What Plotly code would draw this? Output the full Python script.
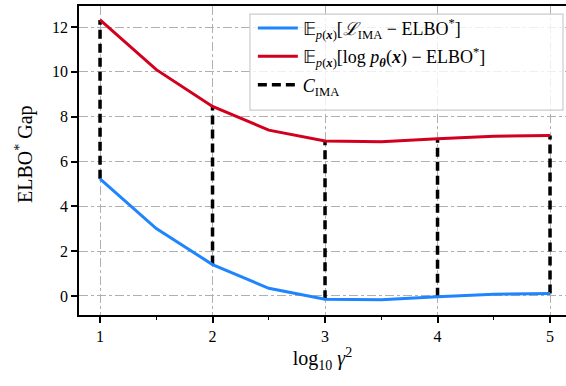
import plotly.graph_objects as go

log_gamma2 = [1.0, 1.5, 2.0, 2.5, 3.0, 3.5, 4.0, 4.5, 5.0]
ima_gap = [5.23, 3.01, 1.40, 0.34, -0.15, -0.17, -0.04, 0.08, 0.11]
logp_gap = [12.32, 10.10, 8.46, 7.40, 6.92, 6.88, 7.02, 7.13, 7.16]
c_ima_x = [1.0, 2.0, 3.0, 4.0, 5.0]

x_ticks = [1, 2, 3, 4, 5]
y_ticks = [0, 2, 4, 6, 8, 10, 12]

FONT = "Liberation Serif"

# dashed C_IMA segments between the two curves
seg_x, seg_y = [], []
for xv in c_ima_x:
    i = log_gamma2.index(xv)
    seg_x += [xv, xv, None]
    seg_y += [ima_gap[i], logp_gap[i], None]

fig = go.Figure()
fig.add_trace(go.Scatter(
    x=seg_x, y=seg_y, mode="lines",
    line=dict(color="black", width=3.5, dash="9px,5px"),
    name="<i>C</i><sub>IMA</sub>", legendrank=3, legendgroup="c",
))
fig.add_trace(go.Scatter(
    x=log_gamma2, y=ima_gap, mode="lines",
    line=dict(color="#1f85ff", width=3),
    name="𝔼<sub><i>p</i>(<b><i>x</i></b>)</sub>[<i>ℒ</i><sub>IMA</sub> − ELBO<sup>*</sup>]",
    legendrank=1, legendgroup="a",
))
fig.add_trace(go.Scatter(
    x=log_gamma2, y=logp_gap, mode="lines",
    line=dict(color="#d2001e", width=3),
    name="𝔼<sub><i>p</i>(<b><i>x</i></b>)</sub>[log <i>p</i><sub><b><i>θ</i></b></sub>(<b><i>x</i></b>) − ELBO<sup>*</sup>]",
    legendrank=2, legendgroup="b",
))

# legend frame (drawn as a shape so it can be wider than the text)
fig.add_shape(
    type="rect", xref="paper", yref="paper",
    x0=0.351, x1=0.9938, y0=0.663, y1=0.974,
    line=dict(color="#cccccc", width=1.2),
    fillcolor="rgba(255,255,255,0.8)", layer="above",
)

fig.update_layout(
    width=566, height=386,
    margin=dict(l=79, r=0, t=6, b=71),
    plot_bgcolor="white", paper_bgcolor="white",
    font=dict(family=FONT, color="black", size=16),
    showlegend=True,
    legend=dict(
        x=0.357, y=0.988, xanchor="left", yanchor="top",
        bgcolor="rgba(0,0,0,0)", borderwidth=0,
        font=dict(family=FONT, size=18, color="black"), tracegroupgap=2,
        itemwidth=40,
    ),
    annotations=[dict(
        text="ELBO<sup>*</sup> Gap", xref="paper", yref="paper",
        x=-0.113, y=0.521, xanchor="center", yanchor="middle",
        textangle=-90, showarrow=False, font=dict(family=FONT, size=20, color="black"),
    )],
)
fig.update_xaxes(
    range=[0.813, 5.142], tickvals=x_ticks, ticktext=[str(v) for v in x_ticks],
    showline=True, linecolor="black", linewidth=1.5, mirror=True,
    ticks="outside", ticklen=6, tickwidth=1.5, tickcolor="black",
    minor=dict(dtick=0.5, tick0=0, ticks="outside", ticklen=3, tickwidth=1, tickcolor="black", showgrid=False),
    showgrid=True, gridcolor="#b0b0b0", gridwidth=1, griddash="dashdot",
    zeroline=False, tickfont=dict(family=FONT, size=16, color="black"),
    title=dict(text="log<sub>10</sub> <i>γ</i><sup>2</sup>", font=dict(family=FONT, size=20), standoff=6),
)
fig.update_yaxes(
    range=[-0.85, 12.94], tickvals=y_ticks, ticktext=[str(v) for v in y_ticks],
    showline=True, linecolor="black", linewidth=1.5, mirror=False,
    ticks="outside", ticklen=6, tickwidth=1.5, tickcolor="black",
    showgrid=True, gridcolor="#b0b0b0", gridwidth=1, griddash="dashdot",
    zeroline=False, tickfont=dict(family=FONT, size=16, color="black"),
)

fig.write_html("out.html")
